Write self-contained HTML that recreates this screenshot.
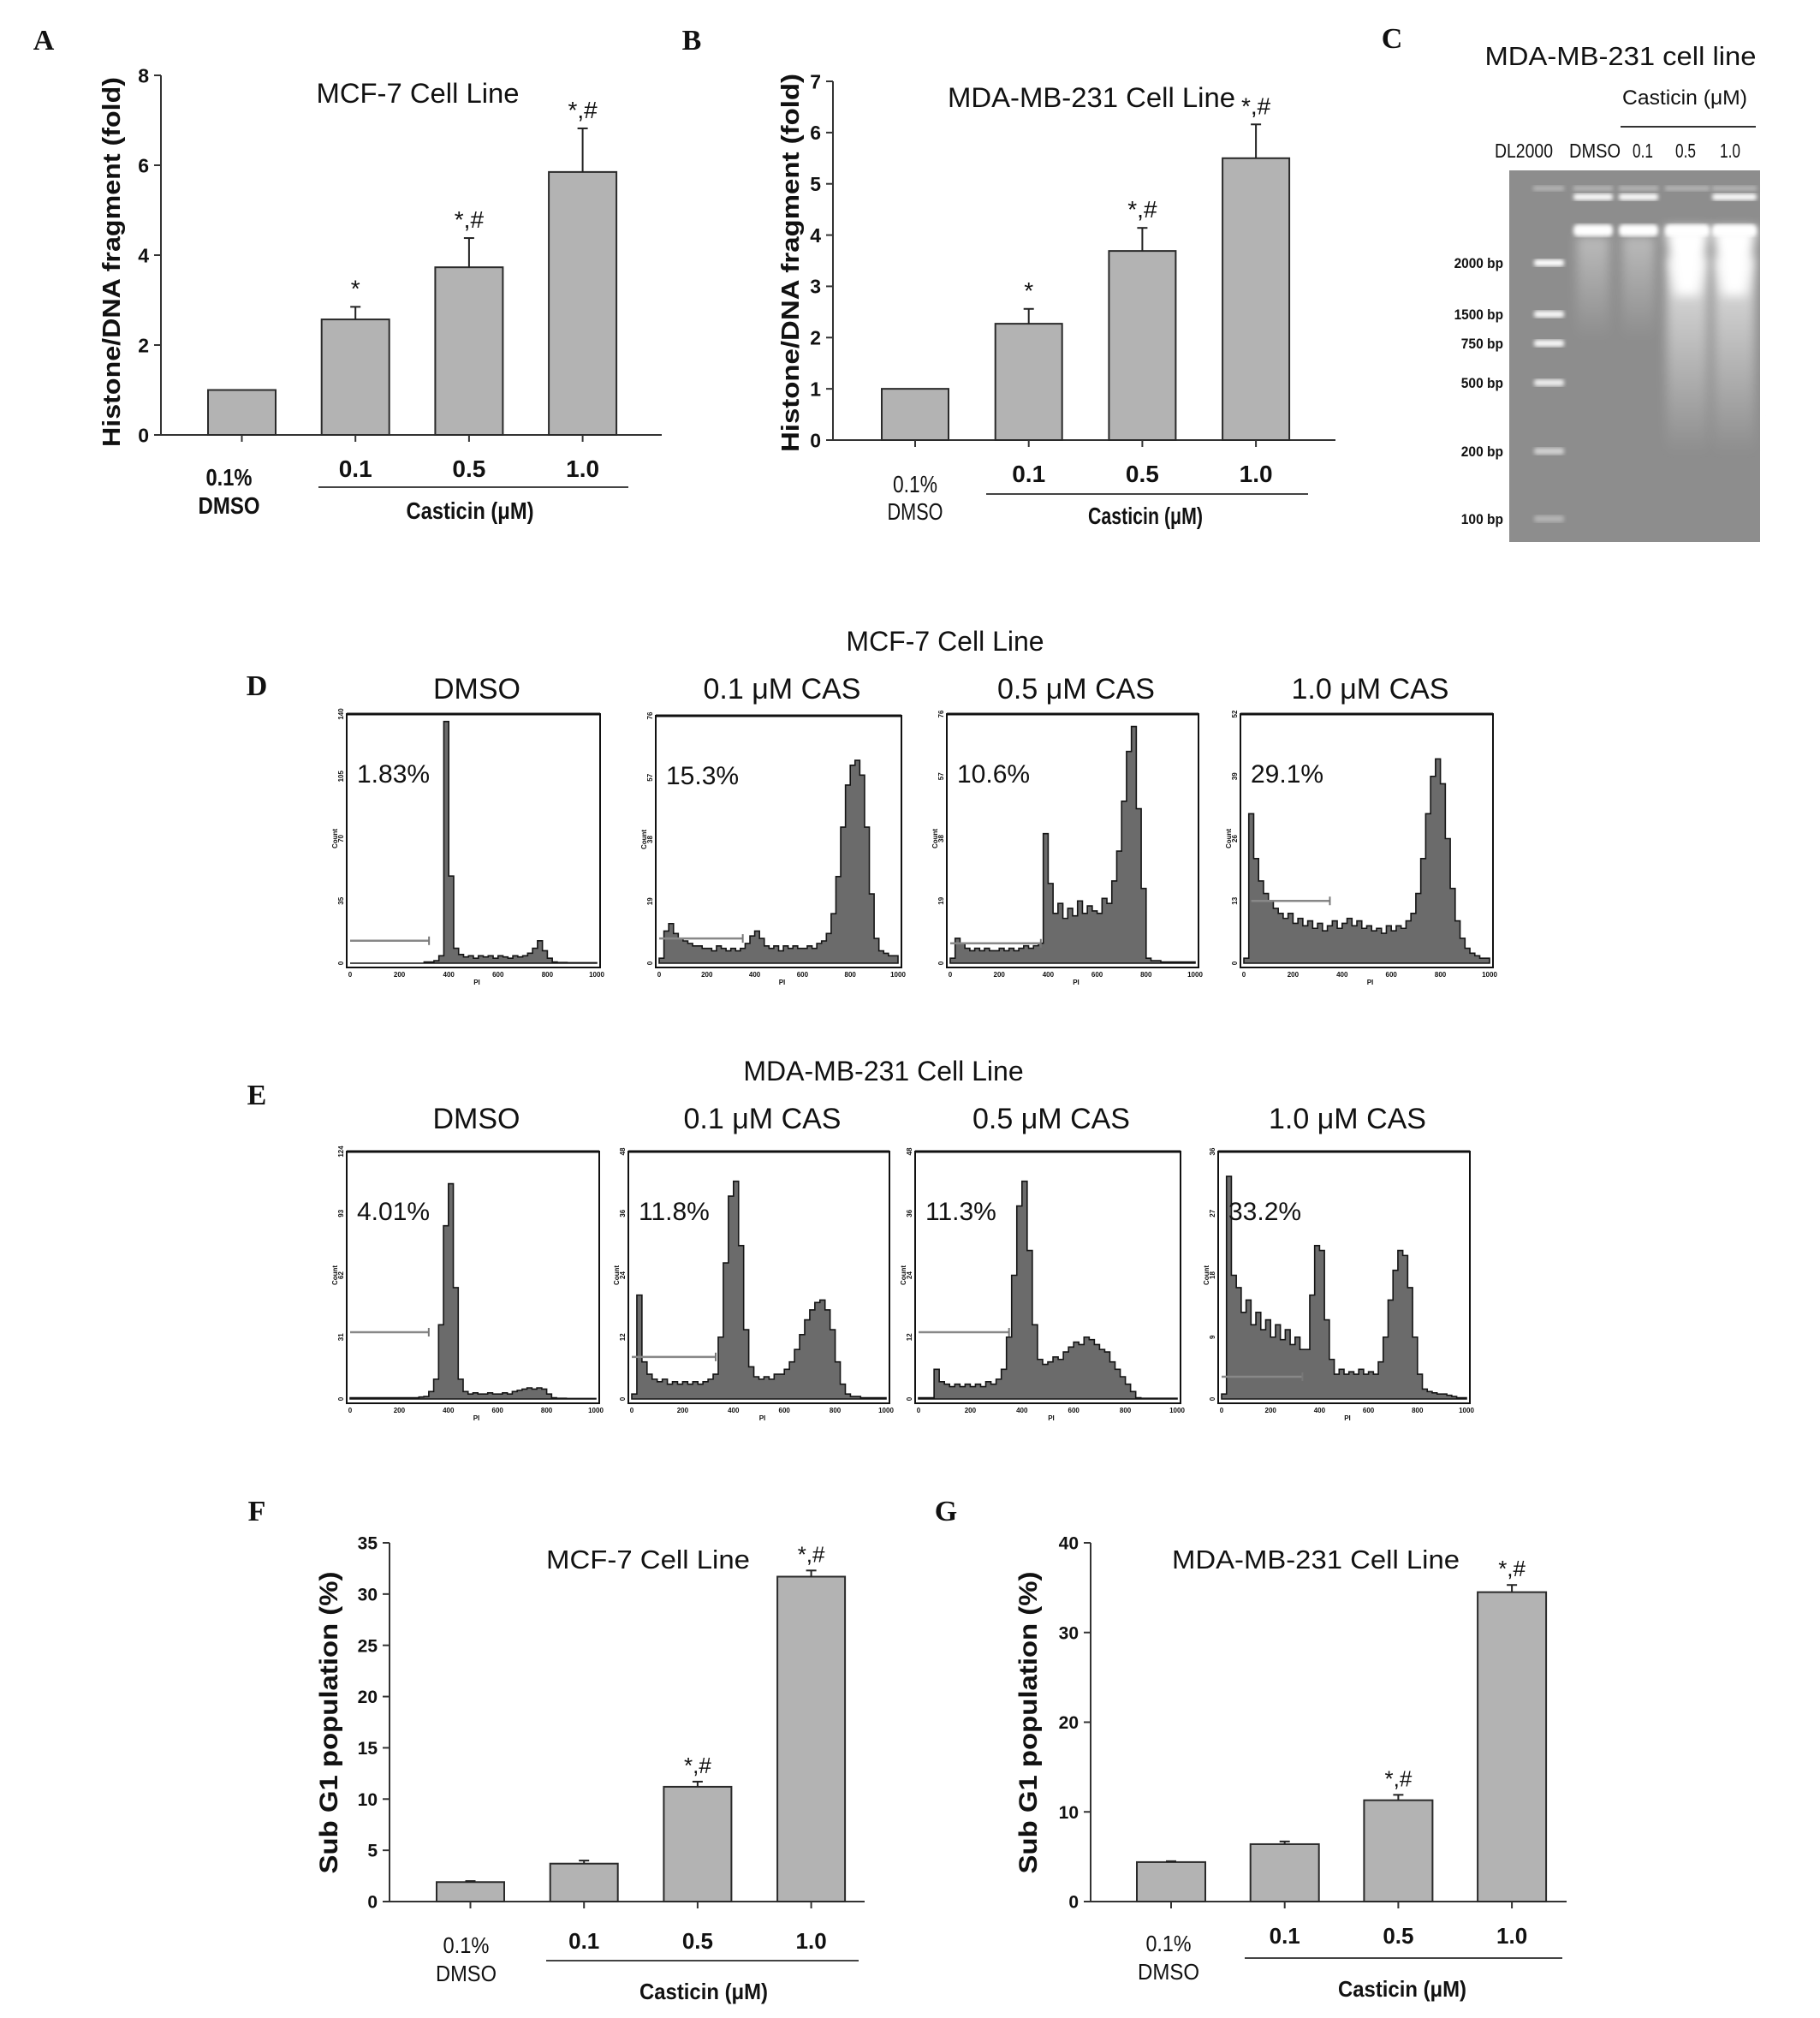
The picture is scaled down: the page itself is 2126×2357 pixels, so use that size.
<!DOCTYPE html>
<html><head><meta charset="utf-8">
<style>
html,body{margin:0;padding:0;background:#fff;}
svg{display:block;}
.n{font-family:"Liberation Sans Narrow","Liberation Sans",sans-serif;}
.s{font-family:"Liberation Sans",sans-serif;}
.r{font-family:"Liberation Serif",serif;font-weight:bold;}
</style></head>
<body>
<svg id="fig" width="2126" height="2357" viewBox="0 0 2126 2357" xmlns="http://www.w3.org/2000/svg"></svg>
<script>
// ---------- data ----------
const barCats = ["0.1% DMSO","0.1","0.5","1.0"];
const aVals = [1.0, 2.57, 3.73, 5.85];
const aErr  = [0, 0.28, 0.65, 0.97];
const aSig  = ["", "*", "*,#", "*,#"];
const aTicks = [0,2,4,6,8];
const bVals = [1.0, 2.27, 3.69, 5.50];
const bErr  = [0, 0.29, 0.45, 0.66];
const bSig  = ["", "*", "*,#", "*,#"];
const bTicks = [0,1,2,3,4,5,6,7];
const fVals = [1.9, 3.7, 11.2, 31.7];
const fErr  = [0.1, 0.3, 0.5, 0.6];
const fSig  = ["", "", "*,#", "*,#"];
const fTicks = [0,5,10,15,20,25,30,35];
const gVals = [4.4, 6.4, 11.3, 34.5];
const gErr  = [0.1, 0.3, 0.6, 0.8];
const gSig  = ["", "", "*,#", "*,#"];
const gTicks = [0,10,20,30,40];
const gelLadder = ["2000 bp","1500 bp","750 bp","500 bp","200 bp","100 bp"];
const gelLanes = ["DL2000","DMSO","0.1","0.5","1.0"];
const histTitles = ["DMSO","0.1 μM CAS","0.5 μM CAS","1.0 μM CAS"];
const dPct = ["1.83%","15.3%","10.6%","29.1%"];
const ePct = ["4.01%","11.8%","11.3%","33.2%"];
const dYmax = [140,76,76,52];
const eYmax = [124,48,48,36];
// histogram heights (fraction of full scale), 50 bins of 20 PI units (0-1000)
const hD1 = [0,0,0,0,0,0,0,0,0,0,0,0,0,0,0,0.005,0.005,0.01,0.03,0.97,0.35,0.06,0.035,0.025,0.03,0.02,0.03,0.025,0.03,0.02,0.03,0.025,0.02,0.03,0.025,0.03,0.04,0.06,0.09,0.05,0.02,0.005,0.003,0.003,0.002,0.002,0.002,0.002,0.002,0.002];
const hD2 = [0.02,0.13,0.16,0.12,0.1,0.09,0.08,0.07,0.07,0.06,0.06,0.05,0.07,0.06,0.05,0.06,0.05,0.06,0.08,0.11,0.13,0.1,0.07,0.06,0.07,0.05,0.07,0.06,0.07,0.06,0.06,0.07,0.06,0.08,0.09,0.12,0.2,0.35,0.55,0.72,0.8,0.82,0.76,0.55,0.28,0.1,0.05,0.04,0.03,0.03];
const hD3 = [0.02,0.1,0.08,0.06,0.05,0.06,0.05,0.06,0.05,0.05,0.06,0.05,0.06,0.05,0.06,0.07,0.06,0.07,0.08,0.52,0.32,0.2,0.24,0.18,0.22,0.19,0.25,0.2,0.23,0.21,0.2,0.26,0.24,0.33,0.45,0.65,0.85,0.95,0.62,0.3,0.02,0.01,0.01,0.005,0.005,0.005,0.005,0.005,0.005,0.005];
const hD4 = [0.02,0.6,0.42,0.33,0.28,0.25,0.22,0.2,0.18,0.2,0.16,0.18,0.15,0.17,0.14,0.16,0.13,0.15,0.17,0.14,0.16,0.18,0.15,0.17,0.14,0.15,0.13,0.14,0.12,0.15,0.13,0.15,0.14,0.17,0.2,0.28,0.42,0.6,0.75,0.82,0.72,0.5,0.3,0.17,0.1,0.06,0.04,0.03,0.02,0.02];
const hE1 = [0.005,0.005,0.005,0.005,0.005,0.005,0.005,0.005,0.005,0.005,0.005,0.005,0.005,0.005,0.008,0.01,0.03,0.08,0.3,0.7,0.87,0.45,0.08,0.03,0.02,0.025,0.02,0.02,0.025,0.02,0.02,0.025,0.02,0.03,0.035,0.04,0.045,0.04,0.045,0.04,0.02,0.005,0.003,0.003,0.002,0.002,0.002,0.002,0.002,0.002];
const hE2 = [0.02,0.42,0.15,0.1,0.08,0.07,0.08,0.06,0.07,0.06,0.07,0.06,0.07,0.06,0.07,0.08,0.1,0.25,0.55,0.82,0.88,0.62,0.28,0.13,0.09,0.08,0.09,0.08,0.1,0.1,0.12,0.15,0.2,0.26,0.32,0.36,0.39,0.4,0.36,0.28,0.15,0.06,0.02,0.01,0.01,0.005,0.005,0.005,0.005,0.005];
const hE3 = [0.005,0.005,0.005,0.12,0.07,0.06,0.05,0.06,0.05,0.06,0.05,0.06,0.05,0.07,0.06,0.08,0.12,0.25,0.5,0.78,0.88,0.6,0.3,0.16,0.14,0.15,0.17,0.16,0.19,0.21,0.23,0.22,0.25,0.24,0.22,0.2,0.19,0.15,0.12,0.09,0.06,0.03,0.005,0.003,0.003,0.003,0.003,0.003,0.003,0.003];
const hE4 = [0.02,0.9,0.5,0.45,0.35,0.4,0.3,0.35,0.28,0.32,0.25,0.3,0.24,0.28,0.22,0.25,0.2,0.2,0.42,0.62,0.6,0.32,0.16,0.1,0.12,0.1,0.11,0.1,0.12,0.1,0.11,0.1,0.15,0.25,0.4,0.52,0.6,0.58,0.45,0.25,0.1,0.04,0.03,0.025,0.02,0.02,0.015,0.01,0.005,0.005];
const dGate = [[0,320,0.09],[0,350,0.1],[0,370,0.08],[30,350,0.25]];
const eGate = [[0,320,0.27],[0,330,0.17],[0,350,0.27],[0,330,0.09]];

// ---------- helpers ----------
const svg = document.getElementById('fig');
const NS = "http://www.w3.org/2000/svg";
function mk(tag, attrs, parent){
  const e = document.createElementNS(NS, tag);
  for (const k in attrs) e.setAttribute(k, attrs[k]);
  (parent||svg).appendChild(e);
  return e;
}
function txt(x,y,s,opt,parent){
  const o = Object.assign({x:x,y:y,'text-anchor':'middle','font-size':24,fill:'#111'},opt||{});
  const t = mk('text',o,parent);
  t.textContent = s;
  return t;
}
function group(name){
  const g = mk('g',{});
  
  
  return g;
}

// ---------- bar chart ----------
function barChart(c){
  const g = group(c.name);
  const ys = v => c.y0 - (v - c.ticks[0]) / (c.ticks[c.ticks.length-1]-c.ticks[0]) * (c.y0 - c.yTop);
  const ya = mk('line',{x1:c.ax,y1:c.yTop,x2:c.ax,y2:c.y0,stroke:'#333','stroke-width':2},g);
   
  const xa = mk('line',{x1:c.ax,y1:c.y0,x2:c.axEnd,y2:c.y0,stroke:'#333','stroke-width':2},g);
   
  c.ticks.forEach(t=>{
    const y = ys(t);
    mk('line',{x1:c.ax-8,y1:y,x2:c.ax,y2:y,stroke:'#333','stroke-width':2},g);
    const tl = txt(c.ax-14,y+c.tickFs*0.36,String(t),{'text-anchor':'end','font-size':c.tickFs,'font-weight':'bold',class:c.cls},g);
     
  });
  c.vals.forEach((v,i)=>{
    const x = c.barX[0] + i*c.step;
    const cx = x + c.bw/2;
    const b = mk('rect',{x:x,y:ys(v),width:c.bw,height:c.y0-ys(v),fill:'#b3b3b3',stroke:'#2a2a2a','stroke-width':2},g);
    
    
    mk('line',{x1:cx,y1:c.y0,x2:cx,y2:c.y0+8,stroke:'#333','stroke-width':2},g);
    if (c.err[i]>0){
      const ey = ys(v + c.err[i]);
      mk('line',{x1:cx,y1:ys(v),x2:cx,y2:ey,stroke:'#222','stroke-width':2},g);
      mk('line',{x1:cx-6,y1:ey,x2:cx+6,y2:ey,stroke:'#222','stroke-width':2},g);
    }
    if (c.sig[i]){
      const top = ys(v + c.err[i]);
      const st = txt(cx,top-c.sigGap,c.sig[i],{'font-size':c.sigFs,class:c.cls},g);
       
    }
    if (i>0){
      const cl = txt(cx,c.catY,barCats[i],{'font-size':c.catFs,'font-weight':'bold',class:c.cls},g);
       
    }
  });
  const cx0 = c.barX[0] + c.bw/2 + c.dmsoDx;
  const d1 = txt(cx0,c.dmsoY1,'0.1%',{'font-size':c.catFs,'font-weight':c.dmsoW,class:c.cls,textLength:c.dmsoL1,lengthAdjust:'spacingAndGlyphs'},g);
   
  const d2 = txt(cx0,c.dmsoY2,'DMSO',{'font-size':c.catFs,'font-weight':c.dmsoW,class:c.cls,textLength:c.dmsoL2,lengthAdjust:'spacingAndGlyphs'},g);
   
  mk('line',{x1:c.line[0],y1:c.line[2],x2:c.line[1],y2:c.line[2],stroke:'#444','stroke-width':2},g);
  const ct = txt(c.cast[0],c.cast[1],'Casticin (μM)',{'font-size':c.catFs,'font-weight':'bold',class:c.cls,textLength:c.cast[2],lengthAdjust:'spacingAndGlyphs'},g);
   
  const tt = txt(c.title[0],c.title[1],c.title[2],{'font-size':c.titleFs,class:c.cls,textLength:c.title[3],lengthAdjust:'spacingAndGlyphs'},g);
   
  const yt = txt(0,0,c.ytitle[2],{'font-size':c.ytFs,'font-weight':'bold',class:'s',textLength:c.ytitle[3],lengthAdjust:'spacingAndGlyphs',transform:`translate(${c.ytitle[0]},${c.ytitle[1]}) rotate(-90)`},g);
   
}

barChart({name:'chart-a-mcf7-histone',vals:aVals,err:aErr,sig:aSig,ticks:aTicks,ax:188,axEnd:773,y0:508,yTop:88,
  barX:[243],step:132.7,bw:79,cls:'n',tickFs:23,catFs:28,sigFs:28,sigGap:12,catY:557,
  dmsoDx:-15,dmsoY1:567,dmsoY2:600,dmsoW:'bold',dmsoL1:54,dmsoL2:72,line:[372,734,569],cast:[549,606,149],
  title:[488,120,'MCF-7 Cell Line',237],titleFs:32,ytitle:[140,306,'Histone/DNA fragment (fold)',432],ytFs:29});
barChart({name:'chart-b-mdamb231-histone',vals:bVals,err:bErr,sig:bSig,ticks:bTicks,ax:973,axEnd:1560,y0:514,yTop:95,
  barX:[1030],step:132.7,bw:78,cls:'n',tickFs:23,catFs:28,sigFs:28,sigGap:12,catY:563,
  dmsoDx:0,dmsoY1:575,dmsoY2:607,dmsoW:'normal',dmsoL1:52,dmsoL2:65,line:[1152,1528,577],cast:[1338,612,134],
  title:[1275,125,'MDA-MB-231 Cell Line',336],titleFs:32,ytitle:[933,307,'Histone/DNA fragment (fold)',442],ytFs:29});
barChart({name:'chart-f-mcf7-subg1',vals:fVals,err:fErr,sig:fSig,ticks:fTicks,ax:455,axEnd:1010,y0:2221,yTop:1802,
  barX:[510],step:132.7,bw:79,cls:'s',tickFs:21,catFs:26,sigFs:26,sigGap:10,catY:2276,
  dmsoDx:-5,dmsoY1:2281,dmsoY2:2314,dmsoW:'normal',dmsoL1:54,dmsoL2:71,line:[638,1003,2290],cast:[822,2335,150],
  title:[757,1832,'MCF-7 Cell Line',238],titleFs:31,ytitle:[394,2012,'Sub G1 population (%)',353],ytFs:30});
barChart({name:'chart-g-mdamb231-subg1',vals:gVals,err:gErr,sig:gSig,ticks:gTicks,ax:1274,axEnd:1830,y0:2221,yTop:1802,
  barX:[1328],step:132.7,bw:80,cls:'s',tickFs:21,catFs:26,sigFs:26,sigGap:10,catY:2270,
  dmsoDx:-3,dmsoY1:2279,dmsoY2:2312,dmsoW:'normal',dmsoL1:53,dmsoL2:72,line:[1454,1825,2287],cast:[1638,2332,150],
  title:[1537,1832,'MDA-MB-231 Cell Line',336],titleFs:31,ytitle:[1211,2012,'Sub G1 population (%)',353],ytFs:30});

// ---------- panel letters ----------
[['A',51,58],['B',808,58],['C',1626,56],['D',300,812],['E',300,1290],['F',300,1776],['G',1105,1776]].forEach(l=>{
  const t = txt(l[1],l[2],l[0],{'font-size':34,class:'r','text-anchor':'middle'});
  
  
});

// ---------- gel (C) ----------
(function(){
  const g = group('gel-panel-c');
  const defs = mk('defs',{},g);
  const lg2 = mk('linearGradient',{id:'smear2',x1:0,y1:0,x2:0,y2:1},defs);
  mk('stop',{offset:'0','stop-color':'#ffffff','stop-opacity':0.4},lg2);
  mk('stop',{offset:'1','stop-color':'#ffffff','stop-opacity':0},lg2);
  const lg3 = mk('linearGradient',{id:'smear3',x1:0,y1:0,x2:0,y2:1},defs);
  mk('stop',{offset:'0','stop-color':'#ffffff','stop-opacity':0.75},lg3);
  mk('stop',{offset:'1','stop-color':'#ffffff','stop-opacity':0},lg3);
  const fl = mk('filter',{id:'blur'},defs);
  mk('feGaussianBlur',{stdDeviation:2.5},fl);
  const fl2 = mk('filter',{id:'blur2',x:'-50%',y:'-50%',width:'200%',height:'200%'},defs);
  mk('feGaussianBlur',{stdDeviation:6},fl2);
  txt(1893,76,'MDA-MB-231 cell line',{'font-size':31,class:'n',textLength:317,lengthAdjust:'spacingAndGlyphs'},g);
  txt(1968,122,'Casticin (μM)',{'font-size':24,class:'n',textLength:146,lengthAdjust:'spacingAndGlyphs'},g);
  mk('line',{x1:1893,y1:148,x2:2051,y2:148,stroke:'#333','stroke-width':2},g);
  const laneX = [1809,1861,1914,1971,2026];
  const laneW = [36,46,46,52,52];
  const labX = [1780,1863,1919,1969,2021];
  const labL = [68,60,24,24,24];
  gelLanes.forEach((s,i)=>{
    const t = txt(labX[i],184,s,{'font-size':23,class:'n',textLength:labL[i],lengthAdjust:'spacingAndGlyphs'},g);
     
  });
  const gel = mk('rect',{x:1763,y:199,width:293,height:434,fill:'#8d8d8d'},g);
   
  const ladderY = [307,367,401,447,527,606];
  const ladderO = [1,0.95,0.95,0.85,0.6,0.35];
  gelLadder.forEach((s,i)=>{
    const t = txt(1756,ladderY[i]+6,s,{'font-size':17,'font-weight':'bold',class:'n','text-anchor':'end',textLength:s.length*8.2,lengthAdjust:'spacingAndGlyphs'},g);
     
    mk('rect',{x:1792,y:ladderY[i]-4,width:35,height:8,fill:'#fff',opacity:ladderO[i],filter:'url(#blur)',rx:3},g);
  });
  laneX.forEach((x,i)=>{
    mk('rect',{x:x-laneW[i]/2,y:217,width:laneW[i],height:6,fill:'#b5b5b5',filter:'url(#blur)'},g);
  });
  [1,2,4].forEach(i=>mk('rect',{x:laneX[i]-laneW[i]/2,y:226,width:laneW[i],height:8,fill:'#fff',opacity:0.95,filter:'url(#blur)',rx:3},g));
  [1,2].forEach(i=>mk('rect',{x:laneX[i]-laneW[i]/2+4,y:276,width:laneW[i]-8,height:120,fill:'url(#smear2)',filter:'url(#blur2)'},g));
  [3,4].forEach(i=>{
    mk('rect',{x:laneX[i]-laneW[i]/2+2,y:300,width:laneW[i]-4,height:230,fill:'url(#smear3)',filter:'url(#blur2)'},g);
    mk('path',{d:`M${laneX[i]-laneW[i]/2} 266 L${laneX[i]+laneW[i]/2} 266 L${laneX[i]+14} 345 L${laneX[i]-14} 345 Z`,fill:'#fff',filter:'url(#blur2)'},g);
  });
  [1,2,3,4].forEach(i=>mk('rect',{x:laneX[i]-laneW[i]/2,y:262,width:laneW[i],height:14,fill:'#fff',filter:'url(#blur)',rx:5},g));
})();

// ---------- flow histograms ----------
function histogram(name,L,T,R,B,h,gate,ymax,pct,title,titleY){
  const g = group(name);
  const x0 = L+4, x1 = R-4, yb = B-5, yt = T;
  const xs = v => x0 + v/1000*(x1-x0);
  const ys = f => yb - f*(yb-yt);
  const tl = txt((L+R)/2+4,titleY,title,{'font-size':34,class:'s'},g);
   
  let d = `M${xs(0)} ${yb}`;
  h.forEach((f,i)=>{ d += ` L${xs(i*20)} ${ys(f)} L${xs(i*20+20)} ${ys(f)}`; });
  d += ` L${xs(1000)} ${yb} Z`;
  const p = mk('path',{d:d,fill:'#6b6b6b',stroke:'#151515','stroke-width':1.6,'stroke-linejoin':'miter'},g);
   
  const fr = mk('rect',{x:L,y:T,width:R-L,height:B-T,fill:'none',stroke:'#111','stroke-width':2},g);
   
  mk('line',{x1:L,y1:T,x2:R,y2:T,stroke:'#111','stroke-width':3},g);
  const gy = ys(gate[2]);
  const gm = mk('line',{x1:xs(gate[0]),y1:gy,x2:xs(gate[1]),y2:gy,stroke:'#888','stroke-width':2.5},g);
   
  mk('line',{x1:xs(gate[1]),y1:gy-5,x2:xs(gate[1]),y2:gy+5,stroke:'#777','stroke-width':2},g);
  const pt = txt(L+12,T+80,pct,{'font-size':30,class:'s','text-anchor':'start'},g);
   
  [0,200,400,600,800,1000].forEach(v=>{
    txt(xs(v),B+11,String(v),{'font-size':8,'font-weight':'bold',class:'s'},g);
  });
  txt((L+R)/2+4,B+20,'PI',{'font-size':8,'font-weight':'bold',class:'s'},g);
  [0,0.25,0.5,0.75,1].forEach(f=>{
    const v = Math.round(ymax*f);
    txt(0,0,String(v),{'font-size':8,'font-weight':'bold',class:'s',transform:`translate(${L-4},${ys(f)}) rotate(-90)`},g);
  });
  txt(0,0,'Count',{'font-size':8,'font-weight':'bold',class:'s',transform:`translate(${L-11},${ys(0.5)}) rotate(-90)`},g);
}
const dBoxes = [[405,834,701,1130],[766,836,1053,1130],[1106,834,1400,1130],[1449,834,1744,1130]];
const eBoxes = [[405,1345,700,1639],[734,1345,1039,1639],[1069,1345,1379,1639],[1423,1345,1717,1639]];
const dH = [hD1,hD2,hD3,hD4], eH = [hE1,hE2,hE3,hE4];
const t1 = txt(1104,760,'MCF-7 Cell Line',{'font-size':32,class:'s'});
 
const t2 = txt(1032,1262,'MDA-MB-231 Cell Line',{'font-size':32,class:'s'});
 
dBoxes.forEach((b,i)=>histogram('histogram-d-'+(i+1),b[0],b[1],b[2],b[3],dH[i],dGate[i],dYmax[i],dPct[i],histTitles[i],816));
eBoxes.forEach((b,i)=>histogram('histogram-e-'+(i+1),b[0],b[1],b[2],b[3],eH[i],eGate[i],eYmax[i],ePct[i],histTitles[i],1318));
</script>
</body></html>
